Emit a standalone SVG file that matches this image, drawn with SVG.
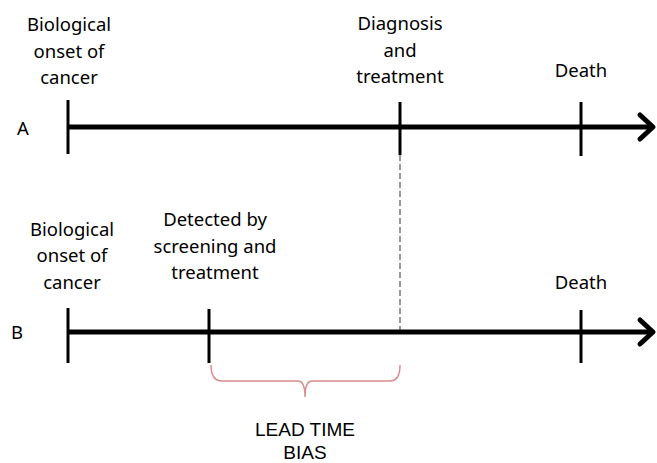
<svg xmlns="http://www.w3.org/2000/svg" width="657" height="463" viewBox="0 0 657 463">
<style>
text{font-family:"Noto Sans","Open Sans",sans-serif;font-size:18.5px;fill:#000;text-anchor:middle}
.ax{stroke:#000;stroke-width:5;fill:none}
.tk{stroke:#000;stroke-width:3;fill:none}
.hd{stroke:#000;stroke-width:5;fill:none;stroke-linecap:round;stroke-linejoin:round}
.dash{stroke:#777;stroke-width:1.5;stroke-dasharray:6 3;fill:none}
.brace{stroke:#d98c8c;stroke-width:1.5;fill:none}
.bias{font-family:"Liberation Sans","Open Sans",sans-serif;font-size:19px}
</style>
<g id="connectors">
<line class="dash" x1="400" y1="155" x2="400" y2="331"/>
</g>
<g id="timelineA">
<line class="ax" x1="68" y1="127" x2="652" y2="127"/>
<polyline class="hd" points="640,115 653,127 640,139"/>
<line class="tk" x1="68" y1="100" x2="68" y2="154"/>
<line class="tk" x1="400" y1="102" x2="400" y2="155"/>
<line class="tk" x1="581" y1="102" x2="581" y2="156"/>
<text x="23" y="135">A</text>
</g>
<g id="onsetA"><text x="69" y="31">Biological</text><text x="69" y="58">onset of</text><text x="69" y="84">cancer</text></g>
<g id="diagnosisA"><text x="400" y="30">Diagnosis</text><text x="400" y="57">and</text><text x="400" y="83">treatment</text></g>
<g id="deathA"><text x="581" y="77">Death</text></g>
<g id="timelineB">
<line class="ax" x1="68" y1="332" x2="652" y2="332"/>
<polyline class="hd" points="640,320 653,332 640,344"/>
<line class="tk" x1="68" y1="308" x2="68" y2="363"/>
<line class="tk" x1="209" y1="309" x2="209" y2="363"/>
<line class="tk" x1="581" y1="310" x2="581" y2="363"/>
<text x="17" y="339">B</text>
</g>
<g id="onsetB"><text x="72" y="236">Biological</text><text x="72" y="262">onset of</text><text x="72" y="289">cancer</text></g>
<g id="screeningB"><text x="215" y="226">Detected by</text><text x="215" y="253">screening and</text><text x="215" y="279">treatment</text></g>
<g id="deathB"><text x="581" y="289">Death</text></g>
<g id="leadtime">
<path class="brace" d="M211,365 Q211,381 222,381 L298,381 Q305,381 305,397 Q305,381 312,381 L390,381 Q400,381 400,365"/>
<text class="bias" x="305" y="436">LEAD TIME</text>
<text class="bias" x="305" y="459">BIAS</text>
</g>
</svg>
